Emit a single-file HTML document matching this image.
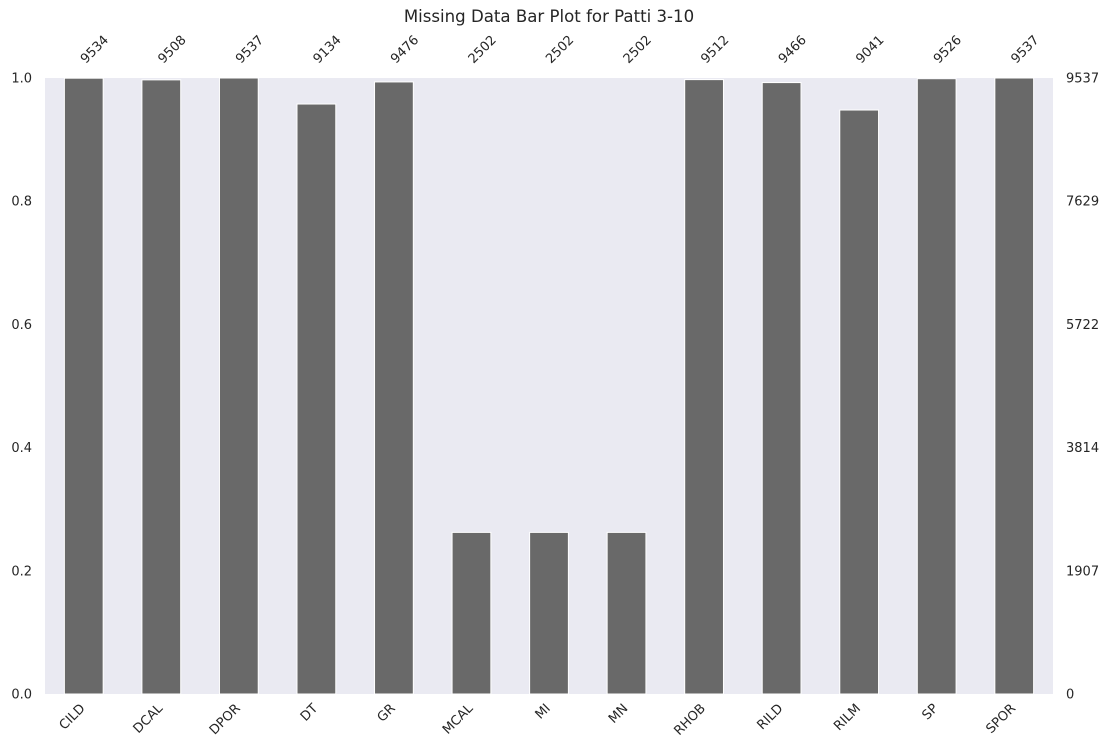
<!DOCTYPE html>
<html><head><meta charset="utf-8"><style>
body{margin:0;background:#fff;}
svg{display:block;font-family:"DejaVu Sans","Liberation Sans",sans-serif;}
</style></head><body>
<svg id="chart" width="1111" height="756" viewBox="0 0 1111 756">
<rect x="45" y="78" width="1008" height="616" fill="#eaeaf2"/>
<text x="549" y="22" font-size="16.6" text-anchor="middle" fill="#262626">Missing Data Bar Plot for Patti 3-10</text>
<g id="bars"></g><g id="axes"></g>
</svg>
<script>
const categories=["CILD","DCAL","DPOR","DT","GR","MCAL","MI","MN","RHOB","RILD","RILM","SP","SPOR"];
const counts=[9534,9508,9537,9134,9476,2502,2502,2502,9512,9466,9041,9526,9537];
const total=9537;
const leftTicks=["0.0","0.2","0.4","0.6","0.8","1.0"];
const rightTicks=["0","1907","3814","5722","7629","9537"];
const NS="http://www.w3.org/2000/svg";
const X0=45,W=1008,Y0=78,H=616;
const step=W/categories.length;
const xc=i=>X0+step*(i+0.5);
const y=v=>Y0+H*(1-v);
const bars=document.getElementById('bars'),axes=document.getElementById('axes');
function mk(tag,at,parent,txt){const e=document.createElementNS(NS,tag);for(const k in at)e.setAttribute(k,at[k]);if(txt!==undefined)e.textContent=txt;parent.appendChild(e);return e;}
categories.forEach((c,i)=>{
  const f=counts[i]/total,bw=step*0.5;
  const r=mk('rect',{x:xc(i)-bw/2,y:y(f),width:bw,height:y(0)-y(f),fill:'#696969',stroke:'#fff','stroke-width':1},bars);
  
  
  const tx=xc(i)+2,ty=64;
  const t=mk('text',{x:tx,y:ty,'font-size':13,fill:'#262626',transform:`rotate(-45 ${tx} ${ty})`},axes,String(counts[i]));
  
  
  const bx=xc(i)+2,by=709;
  const b=mk('text',{x:bx,y:by,'font-size':13,fill:'#262626','text-anchor':'end',transform:`rotate(-45 ${bx} ${by})`},axes,c);
  
  
});
leftTicks.forEach((t,i)=>{
  const v=i/(leftTicks.length-1);
  const e=mk('text',{x:32,y:y(v)+4.5,'font-size':13,fill:'#262626','text-anchor':'end'},axes,t);
  
  
});
rightTicks.forEach((t,i)=>{
  const v=i/(rightTicks.length-1);
  const e=mk('text',{x:1066,y:y(v)+4.5,'font-size':13,fill:'#262626'},axes,t);
  
  
});
</script>
</body></html>
